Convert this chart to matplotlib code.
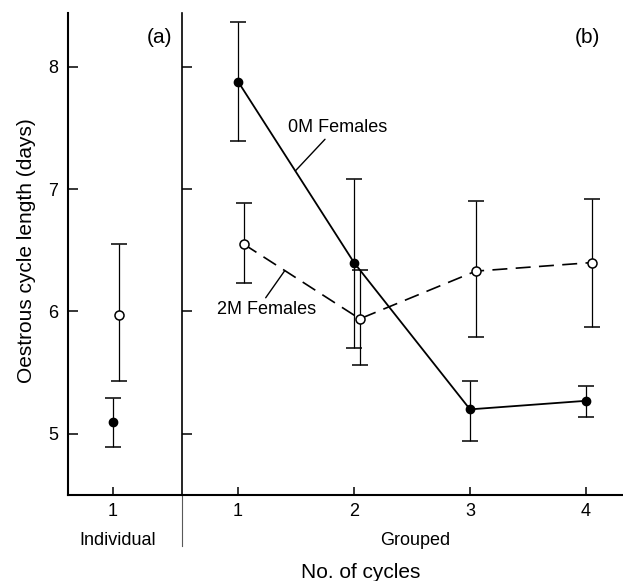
import matplotlib
matplotlib.use("Agg")
import matplotlib.pyplot as plt

plt.rcParams['font.family'] = ['Liberation Sans', 'DejaVu Sans']

# (a) individually housed, cycle 1
ind_x = [1]
ind_om = [5.10]
ind_om_lo = [4.89]
ind_om_hi = [5.29]
ind_2m = [5.97]
ind_2m_lo = [5.43]
ind_2m_hi = [6.55]

# (b) grouped, cycles 1-4
grp_x = [1, 2, 3, 4]
om = [7.88, 6.40, 5.20, 5.27]
om_lo = [7.39, 5.70, 4.94, 5.14]
om_hi = [8.37, 7.08, 5.43, 5.39]
tm = [6.55, 5.94, 6.33, 6.40]
tm_lo = [6.23, 5.56, 5.79, 5.87]
tm_hi = [6.89, 6.34, 6.90, 6.92]

yticks = [5, 6, 7, 8]
off = 0.05  # open circles drawn slightly right of the tick

fig = plt.figure(figsize=(6.23, 5.81), dpi=100)
ax1 = fig.add_axes([68 / 623, 86 / 581, 114 / 623, 482 / 581])
ax2 = fig.add_axes([182 / 623, 86 / 581, 441 / 623, 482 / 581], sharey=ax1)

ylim = (4.5, 8.44)
ax1.set_xlim(0.612, 1.595)
ax2.set_xlim(0.517, 4.319)
ax1.set_ylim(*ylim)


def err(v, lo, hi):
    return [[a - b for a, b in zip(v, lo)], [b - a for a, b in zip(v, hi)]]


ebkw = dict(ecolor='black', elinewidth=0.9, capsize=6, capthick=1.1)

# panel a
ax1.errorbar(ind_x, ind_om, yerr=err(ind_om, ind_om_lo, ind_om_hi), fmt='o',
             color='black', ms=6, **ebkw)
ax1.errorbar([x + off for x in ind_x], ind_2m, yerr=err(ind_2m, ind_2m_lo, ind_2m_hi),
             fmt='o', mfc='white', mec='black', mew=1.1, ms=6.5, **ebkw)

# panel b
ax2.errorbar(grp_x, om, yerr=err(om, om_lo, om_hi), fmt='-o', color='black',
             lw=1.3, ms=6, **ebkw)
ax2.errorbar([x + off for x in grp_x], tm, yerr=err(tm, tm_lo, tm_hi), fmt='o',
             mfc='white', mec='black', mew=1.1, ms=6.5, **ebkw)
ax2.plot([x + off for x in grp_x], tm, color='black', lw=1.2, dashes=(9, 5), zorder=1.5)

for ax in (ax1, ax2):
    ax.spines['top'].set_visible(False)
    ax.spines['right'].set_visible(False)
    ax.spines['left'].set_linewidth(1.5)
    ax.spines['bottom'].set_linewidth(1.5)
    ax.set_yticks(yticks)
    ax.tick_params(axis='y', direction='in', length=7, width=1.1, labelsize=13, pad=7)
    ax.tick_params(axis='x', direction='in', length=6, width=1.1, labelsize=13, pad=6)

ax1.set_xticks(ind_x)
ax1.set_xticklabels(['1'])
ax2.set_xticks(grp_x)
ax2.set_xticklabels([str(x) for x in grp_x])
ax2.tick_params(axis='y', labelleft=False)
ax2.spines['left'].set_linewidth(1.2)

# divider continues below the x axis
ax2.plot([0, 0], [0, -51 / 482], transform=ax2.transAxes, clip_on=False,
         color='0.35', lw=0.8)

ax1.text(0.807, 0.95, '(a)', transform=ax1.transAxes, ha='center', va='center', fontsize=15)
ax2.text(0.92, 0.95, '(b)', transform=ax2.transAxes, ha='center', va='center', fontsize=15)

ax1.text(0.44, -0.095, 'Individual', transform=ax1.transAxes, ha='center', va='center',
         fontsize=13)
ax2.text(0.528, -0.095, 'Grouped', transform=ax2.transAxes, ha='center', va='center',
         fontsize=13)
fig.text(361 / 623, 1 - 573 / 581, 'No. of cycles', ha='center', va='center', fontsize=15)
fig.text(27 / 623, 1 - 251 / 581, 'Oestrous cycle length (days)', rotation=90,
         ha='center', va='center', fontsize=15)

ax2.annotate('0M Females', xy=(1.495, 7.15), xytext=(1.43, 7.50), ha='left', va='center',
             fontsize=13,
             arrowprops=dict(arrowstyle='-', lw=1, shrinkA=0, shrinkB=0, relpos=(0.4, 0.0)))
ax2.annotate('2M Females', xy=(1.40, 6.33), xytext=(0.82, 6.02), ha='left', va='center',
             fontsize=13,
             arrowprops=dict(arrowstyle='-', lw=1, shrinkA=0, shrinkB=0, relpos=(0.47, 1.0)))

fig.savefig('out.png', dpi=100)
